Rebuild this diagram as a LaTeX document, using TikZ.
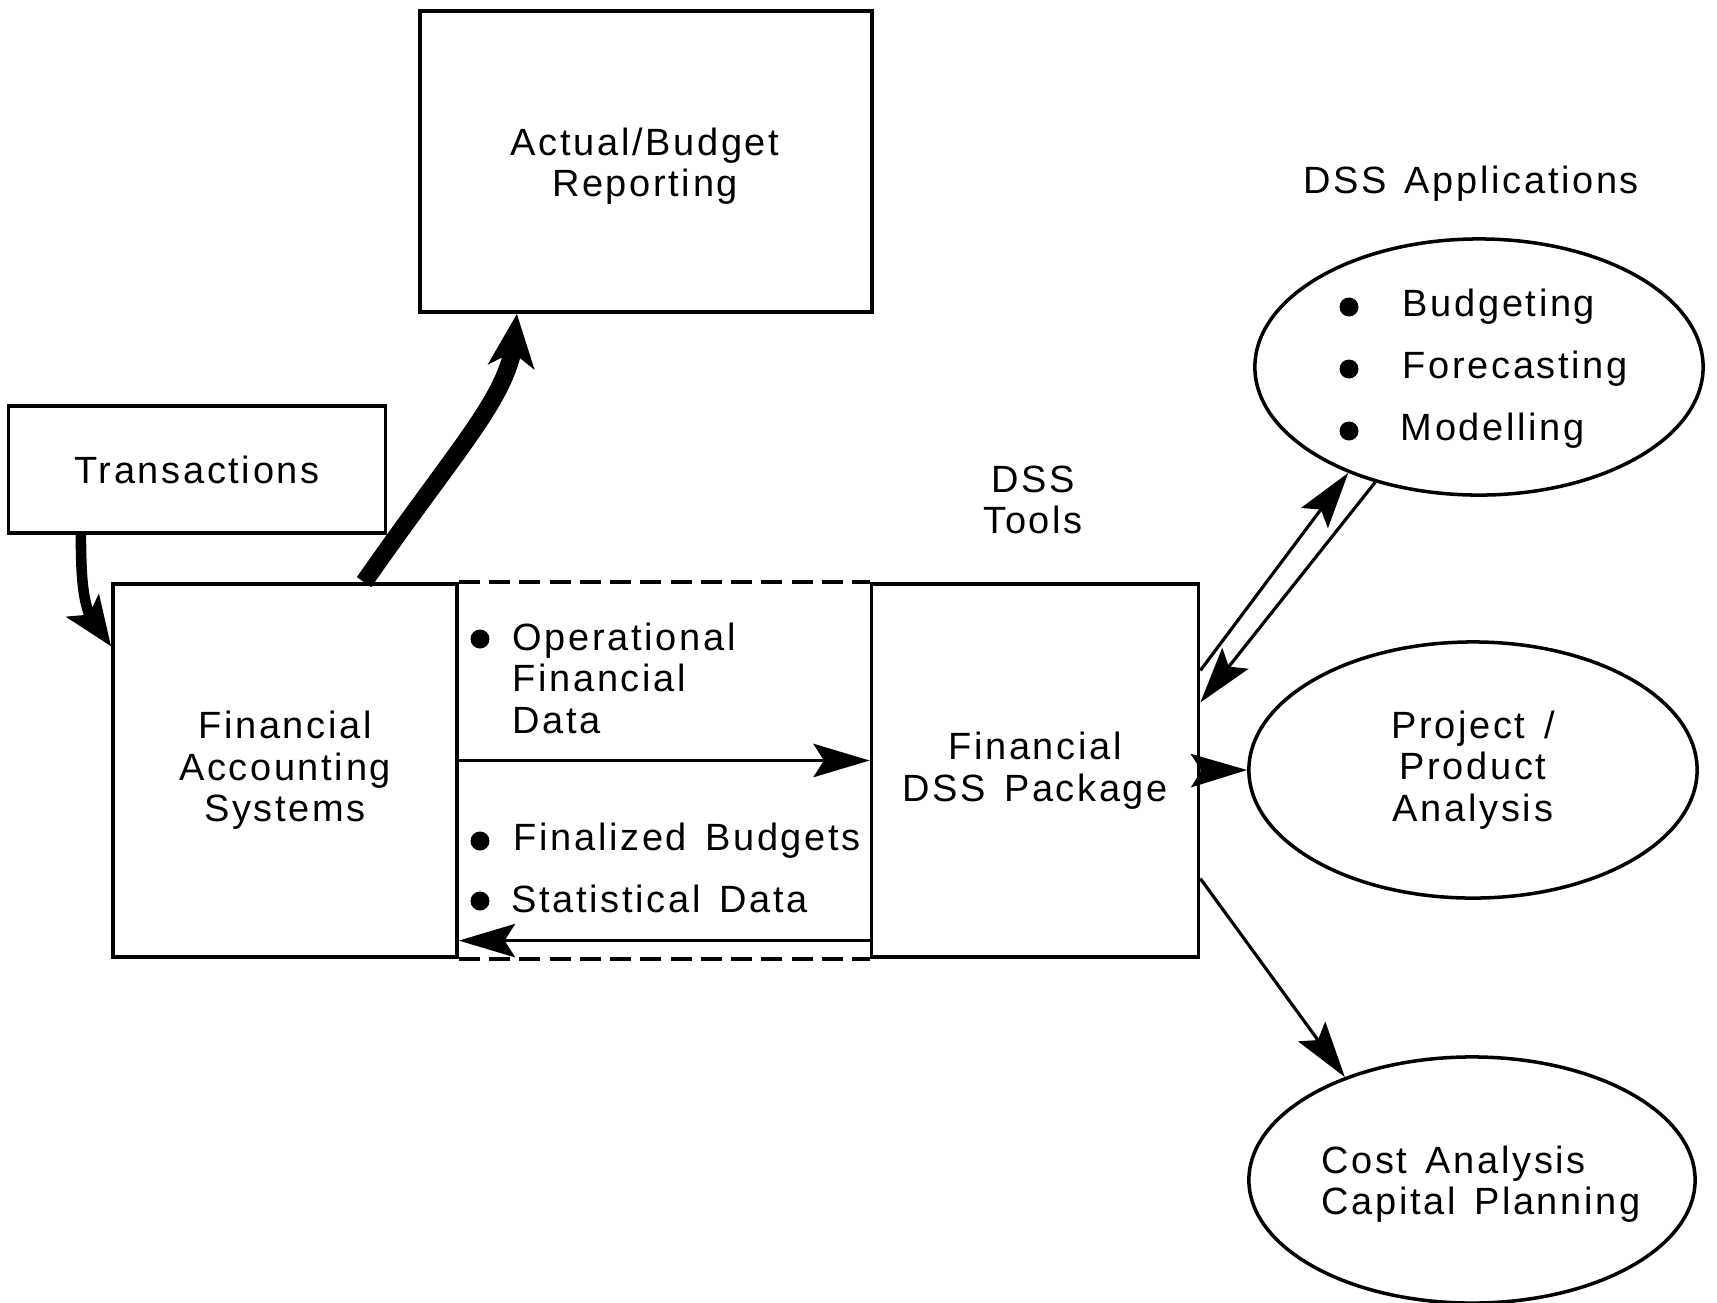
\documentclass[tikz,border=0pt]{standalone}
\usepackage{fontspec}
\setmainfont{Liberation Sans}[LetterSpace=7,WordSpace=1.4]
\usetikzlibrary{arrows.meta,positioning,shapes.geometric,bending}

\begin{document}
\begin{tikzpicture}[x=0.01cm,y=-0.01cm,
  every node/.style={font=\fontsize{10.8}{11.8}\selectfont},
  box/.style={draw,line width=1pt,inner sep=0pt,align=center},
  blob/.style={draw,ellipse,line width=1pt,inner sep=0pt,align=center},
  item/.style={anchor=west,inner sep=0pt},
  dot/.style={circle,fill,inner sep=0pt,minimum size=5.4pt},
  flow/.style={-{Stealth[length=16pt,width=9.5pt,inset=3pt]},line width=0.9pt},
  heavy/.style={-{Stealth[length=15pt,width=13pt,inset=4pt,flex]},line width=5pt},
  curl/.style={-{Stealth[length=14pt,width=11pt,inset=3pt,flex]},line width=3pt},
  dash box/.style={line width=1pt,dash pattern=on 6pt off 2.6pt}]
\useasboundingbox (0,0) rectangle (1717,1302);
% boxes
\node[box,minimum width=4.52cm,minimum height=3.01cm] (actual) at (646,161.5) {};
\node[align=center] (actualtxt) at (645,166) {Actual/Budget\\Reporting};
\node[box,minimum width=3.77cm,minimum height=1.27cm] (trans) at (197,469.5) {Transactions};
\node[box,minimum width=3.44cm,minimum height=3.73cm] (fas) at (285,770.5) {Financial\\Accounting\\Systems};
\node[box,minimum width=3.27cm,minimum height=3.73cm] (dss) at (1035,770.5) {Financial\\DSS Package};
\node[align=center] (tools) at (1033,500) {DSS\\Tools};
% applications
\node (appl) at (1471,184) {DSS Applications};
\node[blob,minimum width=4.48cm,minimum height=2.56cm] (apps) at (1479,367) {};
\node[blob,minimum width=4.48cm,minimum height=2.56cm] (proj) at (1473,770) {Project /\\Product\\Analysis};
\node[blob,minimum width=4.46cm,minimum height=2.46cm] (cost) at (1472,1180) {};
\node[align=left] (costtxt) at (1481,1184) {Cost Analysis\\Capital Planning};
\node[dot] (d1) at (1349,307) {};
\node[dot] (d2) at (1349,369) {};
\node[dot] (d3) at (1349,431) {};
\node[item] (budg) at (1402,307) {Budgeting};
\node[item] (fore) at (1402,369) {Forecasting};
\node[item] (mode) at (1400,431) {Modelling};
% data exchanged
\node[dot] (d4) at (480,639) {};
\node[item,align=left] (oper) at (512,678) {Operational\\Financial\\Data};
\node[dot] (d5) at (480,841) {};
\node[item] (fina) at (513,841) {Finalized Budgets};
\node[dot] (d6) at (480,901) {};
\node[item] (stat) at (511,899) {Statistical Data};
\draw[dash box] (fas.north east) -- (dss.north west);
\draw[dash box] (fas.south east) -- (dss.south west);
% connectors
\draw[flow] ([yshift=0.1cm]fas.east) -- ([yshift=0.1cm]dss.west);
\draw[flow] ([yshift=-1.7cm]dss.west) -- ([yshift=-1.7cm]fas.east);
\draw[heavy] ([xshift=0.79cm]fas.north) .. controls +(1.11cm,1.59cm) and +(0,-0.76cm) .. ([xshift=-1.29cm]actual.south);
\draw[curl] ([xshift=-1.16cm]trans.south) .. controls +(0,-0.67cm) and +(-0.25cm,0.25cm) .. ([yshift=1.24cm]fas.west);
\draw[flow] ([yshift=1cm]dss.east) -- (apps.219);
\draw[flow] (apps.228) -- ([yshift=0.68cm]dss.east);
\draw[flow] (dss.east) -- (proj.west);
\draw[flow] ([yshift=-1.08cm]dss.east) -- (cost.141);
\end{tikzpicture}
\end{document}
